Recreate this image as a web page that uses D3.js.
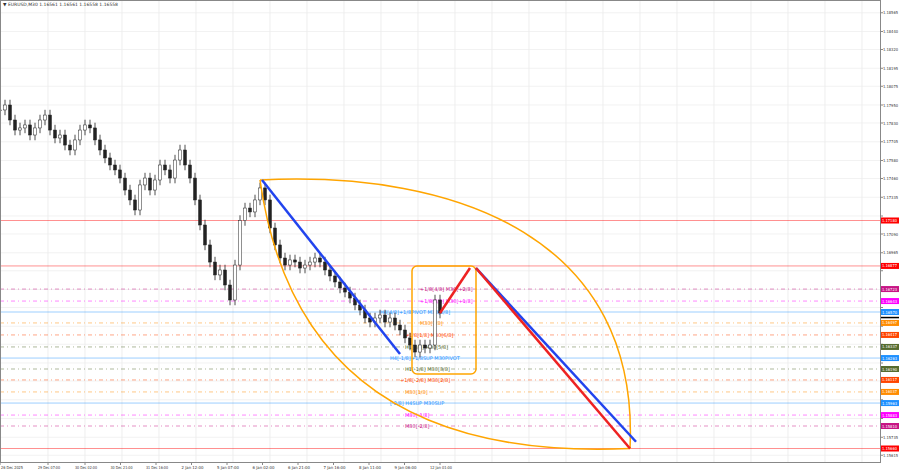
<!DOCTYPE html><html><head><meta charset="utf-8"><script src="https://cdn.jsdelivr.net/npm/d3@7"></script>
<style>body{margin:0;background:#fff}svg{font-family:Tahoma,"DejaVu Sans",sans-serif}</style></head><body><svg id="c" width="900" height="474"></svg>
<script>
const closes=[1.17917,1.1795,1.1785,1.17783,1.17797,1.17817,1.1775,1.17797,1.1785,1.17883,1.17783,1.1773,1.1775,1.17683,1.1765,1.17717,1.17783,1.17817,1.17797,1.17717,1.1765,1.17597,1.1755,1.17517,1.17463,1.17383,1.17317,1.1725,1.17417,1.17463,1.17383,1.1745,1.1755,1.17517,1.17463,1.17583,1.1765,1.1755,1.17463,1.17317,1.1715,1.17017,1.16903,1.16817,1.1685,1.1675,1.1665,1.16883,1.1718,1.17263,1.17237,1.17317,1.17397,1.17317,1.1713,1.17017,1.1693,1.16883,1.16917,1.16903,1.16863,1.16883,1.16903,1.1693,1.16903,1.1685,1.1681,1.1677,1.1673,1.16703,1.16663,1.16617,1.16583,1.1653,1.16503,1.1653,1.1655,1.16503,1.1653,1.16483,1.1645,1.16397,1.1635,1.16303,1.1635,1.1633,1.1635,1.1665,1.16563];
const priceTicks=["1.18565","1.18440","1.18320","1.18195","1.18075","1.17950","1.17830","1.17705","1.17580","1.17460","1.17335","1.17210","1.17090","1.16965","1.16845","1.16720","1.16600","1.16475","1.16355","1.16230","1.16110","1.15985","1.15860","1.15735","1.15615"];
const timeTicks=[0,9.6,17,24.1,31.2,38.3,45.4,52.5,59.6,66.7,73.8,80.9,88];
const timeLabels=["26 Dec 2025","29 Dec 07:00","30 Dec 02:00","30 Dec 21:00","31 Dec 16:00","2 Jan 12:00","5 Jan 07:00","6 Jan 02:00","6 Jan 21:00","7 Jan 16:00","8 Jan 11:00","9 Jan 06:00","12 Jan 01:00"];
const levelPrices=[1.17180,1.16877,1.16723,1.16643,1.16570,1.16497,1.16417,1.16337,1.16263,1.16190,1.16117,1.16037,1.15963,1.15883,1.15810,1.15660];
const levelColors=["red","red","#c71585","#ff00ff","#1e90ff","#ff8c00","#ff4500","#556b2f","#1e90ff","#556b2f","#ff4500","#ff8c00","#1e90ff","#ff00ff","#c71585","red"];
const levelSolid=[1,1,0,0,1,0,0,0,1,0,0,0,1,0,0,1];
const levelTexts=["","","+1/8[4/8] M30[+2/8]","+1/8[3/8] M30[+1/8]","H4[4/8]+1/8PIVOT M30[8/8]","M30[7/8]","+1/8[1/8] M30[6/8]","H1[0/8] M30[5/8]","H4[-1/8]+1/8SUP M30PIVOT","H1[-1/8] M30[3/8]","+1/8[-2/8] M30[2/8]","M30[1/8]","[-2/8] H4SUP M30SUP","M30[-1/8]","M30[-2/8]",""];
const levelTextX=[0,0,84,84,76,84,81,81,78,81,80,81,78,81,81,0];
const blueLines=[[[52.4,1.17450],[80,1.16290]],[[95.2,1.16863],[127.2,1.15705]]];
const redLines=[[[88,1.16563],[94,1.16863]],[[95.2,1.16863],[126,1.15660]]];
const arcStart=[52,1.17450], arcEnd=[126,1.15660];
const boxCorners=[[82.4,1.16877],[95.2,1.16157]];

const svg=d3.select("#c");
const W=880,H=462;
const x=d3.scaleLinear().domain([0,176]).range([0,W]);
const y=d3.scaleLinear().domain([1.1865,1.1553]).range([0,468]);
const g=svg.append("g");
const step=x(timeTicks[2])-x(timeTicks[1]);
for(let gx=x(timeTicks[1]);gx<W;gx+=step){g.append("line").attr("x1",gx).attr("x2",gx).attr("y1",0).attr("y2",H).attr("stroke","#e6e6e6").attr("stroke-width",0.7);}
priceTicks.forEach(t=>{const yy=y(+t);if(yy<H)g.append("line").attr("x1",0).attr("x2",W).attr("y1",yy).attr("y2",yy).attr("stroke","#ececec").attr("stroke-width",0.7);});
levelPrices.forEach((p,i)=>{const yy=y(p);
 svg.append("line").attr("x1",0).attr("x2",W).attr("y1",yy).attr("y2",yy).attr("stroke",levelColors[i]).attr("stroke-width",0.8).attr("stroke-opacity",levelSolid[i]?0.55:0.6).attr("stroke-dasharray",levelSolid[i]?null:"4,3,1,3");
 if(levelTexts[i])svg.append("text").attr("x",x(levelTextX[i])).attr("y",yy+2).attr("font-size",5).attr("fill",levelColors[i]).text(levelTexts[i]);
});
const cg=svg.append("g");
closes.forEach((c,i)=>{const o=i?closes[i-1]:c;const hi=Math.max(o,c)+0.00035,lo=Math.min(o,c)-0.00035;const cx=x(i);
 cg.append("line").attr("x1",cx).attr("x2",cx).attr("y1",y(hi)).attr("y2",y(lo)).attr("stroke","#222").attr("stroke-width",0.8);
 cg.append("rect").attr("x",cx-1.5).attr("width",3).attr("y",y(Math.max(o,c))).attr("height",Math.max(0.8,Math.abs(y(o)-y(c)))).attr("fill",c>=o?"#fff":"#222").attr("stroke","#222").attr("stroke-width",0.5);
});
const line=d3.line().x(d=>x(d[0])).y(d=>y(d[1]));
const x0=x(arcStart[0]),y0=y(arcStart[1]),x1=x(arcEnd[0]),y1=y(arcEnd[1]);
svg.append("path").attr("d",`M${x0},${y0} Q${x0+40},${y1+15} ${x1},${y1}`).attr("fill","none").attr("stroke","orange").attr("stroke-width",1.5);
svg.append("path").attr("d",`M${x0},${y0} C${x0+200},${y0-10} ${x1+10},${y0+60} ${x1},${y1}`).attr("fill","none").attr("stroke","orange").attr("stroke-width",1.5);
svg.append("rect").attr("x",x(boxCorners[0][0])).attr("y",y(boxCorners[0][1])).attr("width",x(boxCorners[1][0])-x(boxCorners[0][0])).attr("height",y(boxCorners[1][1])-y(boxCorners[0][1])).attr("rx",5).attr("fill","none").attr("stroke","orange").attr("stroke-width",1.5);
blueLines.forEach(l=>svg.append("path").attr("d",line(l)).attr("stroke","#2244ee").attr("stroke-width",2.5).attr("fill","none"));
redLines.forEach(l=>svg.append("path").attr("d",line(l)).attr("stroke","#ee2222").attr("stroke-width",2.5).attr("fill","none"));
svg.append("rect").attr("x",0.5).attr("y",0.5).attr("width",W).attr("height",H).attr("fill","none").attr("stroke","#888");
priceTicks.forEach(t=>{const yy=y(+t);if(yy<H){svg.append("line").attr("x1",W).attr("x2",W+3).attr("y1",yy).attr("y2",yy).attr("stroke","#888");
 const clash=levelPrices.some(p=>Math.abs(y(p)-yy)<5.5);
 if(!clash)svg.append("text").attr("x",W+3).attr("y",yy+1.5).attr("font-size",4).attr("textLength",15).attr("lengthAdjust","spacingAndGlyphs").attr("fill","#333").text(t);}});
levelPrices.forEach((p,i)=>{const yy=y(p);svg.append("rect").attr("x",W+1).attr("y",yy-3).attr("width",18).attr("height",6).attr("fill",levelColors[i]);svg.append("text").attr("x",W+2).attr("y",yy+1.5).attr("font-size",4).attr("textLength",15).attr("lengthAdjust","spacingAndGlyphs").attr("fill","#fff").text(p.toFixed(5));});
svg.append("rect").attr("x",W+1).attr("y",y(1.16558)+3).attr("width",18).attr("height",1.5).attr("fill","#000");
timeTicks.forEach((t,i)=>{svg.append("line").attr("x1",x(t)).attr("x2",x(t)).attr("y1",H).attr("y2",H+3).attr("stroke","#888");svg.append("text").attr("x",x(t)+(i?-10:1)).attr("y",H+7).attr("font-size",4).attr("textLength",22).attr("lengthAdjust","spacingAndGlyphs").attr("fill","#333").text(timeLabels[i]);});
svg.append("text").attr("x",3).attr("y",6).attr("font-size",4.5).attr("fill","#333").text("▼ EURUSD,M30  1.16561 1.16561 1.16558 1.16558");
</script></body></html>
